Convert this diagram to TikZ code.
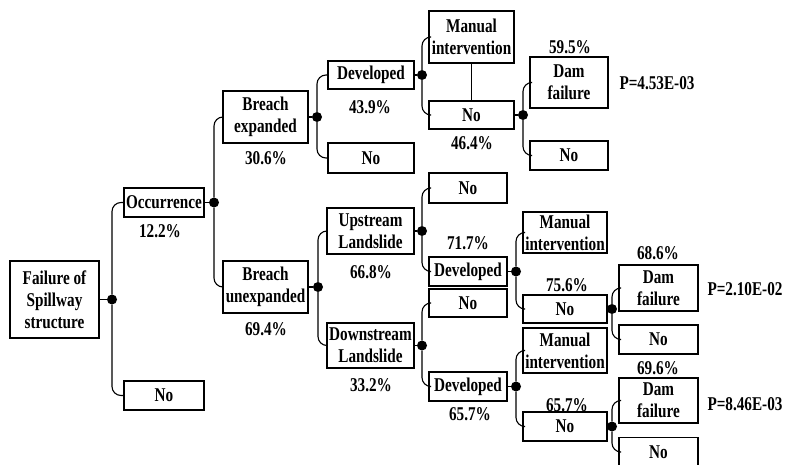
\documentclass[tikz,border=0pt]{standalone}
\usepackage{fontspec}
\setmainfont{Liberation Serif}[FakeStretch=0.78]
\usepackage{tikz}

\begin{document}
\begin{tikzpicture}[x=1pt,y=-1pt,
    every node/.style={font=\fontsize{19.5}{22}\selectfont\bfseries},
    box/.style={draw, line width=1.5pt, inner sep=0pt, align=center},
    dot/.style={circle, fill, inner sep=0pt, minimum size=10pt},
    branch/.style={line width=1.1pt, rounded corners=9pt}]
    \useasboundingbox (0,0) rectangle (788,465);
    \clip (0,0) rectangle (788,465);

    % Nodes
    \node[box, minimum width=89pt, minimum height=77pt] (fail) at (54.5,299.5) {Failure of\\Spillway\\structure};
    \node[box, minimum width=80pt, minimum height=29pt] (occ) at (164,202.5) {Occurrence};
    \node[box, minimum width=80pt, minimum height=29pt] (noocc) at (164,395.5) {No};
    \node[box, minimum width=85pt, minimum height=52pt] (bexp) at (265.5,117) {Breach\\expanded};
    \node[box, minimum width=85pt, minimum height=52pt] (bunexp) at (265.5,287) {Breach\\unexpanded};
    \node[box, minimum width=86pt, minimum height=28pt] (dev1) at (371,75) {Developed};
    \node[box, minimum width=86pt, minimum height=30pt] (nodev1) at (371,158) {No};
    \node[box, minimum width=85pt, minimum height=52pt] (man1) at (471.5,37) {Manual\\intervention};
    \node[box, minimum width=85pt, minimum height=28pt] (noman1) at (471.5,115) {No};
    \node[box, minimum width=78pt, minimum height=51pt] (dam1) at (569,82.5) {Dam\\failure};
    \node[box, minimum width=78pt, minimum height=29pt] (nodam1) at (569,155.5) {No};
    \node[box, minimum width=87pt, minimum height=46pt] (up) at (370.5,231) {Upstream\\Landslide};
    \node[box, minimum width=87pt, minimum height=45pt] (down) at (370.5,345.5) {Downstream\\Landslide};
    \node[box, minimum width=78pt, minimum height=30pt] (nodev2) at (468,188) {No};
    \node[box, minimum width=78pt, minimum height=29pt] (dev2) at (468,271.5) {Developed};
    \node[box, minimum width=78pt, minimum height=28pt] (nodev3) at (468,303) {No};
    \node[box, minimum width=78pt, minimum height=29pt] (dev3) at (468,386.5) {Developed};
    \node[box, minimum width=84pt, minimum height=41pt] (man2) at (565,232.5) {Manual\\intervention};
    \node[box, minimum width=84pt, minimum height=28pt] (noman2) at (565,309) {No};
    \node[box, minimum width=84pt, minimum height=45pt] (man3) at (565,350.5) {Manual\\intervention};
    \node[box, minimum width=84pt, minimum height=29pt] (noman3) at (565,426.5) {No};
    \node[box, minimum width=79pt, minimum height=46pt] (dam2) at (658.5,288) {Dam\\failure};
    \node[box, minimum width=79pt, minimum height=29pt] (nodam2) at (658.5,339.5) {No};
    \node[box, minimum width=79pt, minimum height=45pt] (dam3) at (658.5,400.5) {Dam\\failure};
    \node[box, minimum width=79pt, minimum height=29pt] (nodam3) at (658.5,452) {No};

    % Probabilities
    \node (p122) at (160,231) {12.2\%};
    \node (p694) at (266,329) {69.4\%};
    \node (p306) at (266,158) {30.6\%};
    \node (p439) at (370,107) {43.9\%};
    \node (p464) at (472,143) {46.4\%};
    \node (p595) at (570,47) {59.5\%};
    \node (p668) at (371,272) {66.8\%};
    \node (p717) at (468,243) {71.7\%};
    \node (p332) at (371,385) {33.2\%};
    \node (p657a) at (470,414) {65.7\%};
    \node (p756) at (567,285) {75.6\%};
    \node (p686) at (658,253) {68.6\%};
    \node (p657b) at (567,405) {65.7\%};
    \node (p696) at (658,368) {69.6\%};
    \node (pdam1) at (657,83) {P=4.53E-03};
    \node (pdam2) at (745,289) {P=2.10E-02};
    \node (pdam3) at (745,404) {P=8.46E-03};

    % Chance points
    \node[dot] (d0) at (112,299.5) {};
    \node[dot] (d1) at (214,202.5) {};
    \node[dot] (d2) at (317,117) {};
    \node[dot] (d3) at (318,287) {};
    \node[dot] (d4) at (422,75) {};
    \node[dot] (d5) at (523,115) {};
    \node[dot] (d6) at (422,231) {};
    \node[dot] (d7) at (422,345.5) {};
    \node[dot] (d8) at (516,271.5) {};
    \node[dot] (d9) at (516,386.5) {};
    \node[dot] (d10) at (612,309) {};
    \node[dot] (d11) at (612,426.5) {};

    % Edges
    \draw[branch] (fail) -- (d0);
    \draw[branch] (d0) |- (occ.west);
    \draw[branch] (d0) |- (noocc.west);

    \draw[branch] (occ) -- (d1);
    \draw[branch] (d1) |- (bexp.west);
    \draw[branch] (d1) |- (bunexp.west);

    \draw[branch] (bexp) -- (d2);
    \draw[branch] (d2) |- (dev1.west);
    \draw[branch] (d2) |- (nodev1.west);

    \draw[branch] (dev1) -- (d4);
    \draw[branch] (d4) |- (man1.west);
    \draw[branch] (d4) |- (noman1.west);
    \draw[branch] (man1) -- (noman1);

    \draw[branch] (noman1) -- (d5);
    \draw[branch] (d5) |- (dam1.west);
    \draw[branch] (d5) |- (nodam1.west);

    \draw[branch] (bunexp) -- (d3);
    \draw[branch] (d3) |- (up.west);
    \draw[branch] (d3) |- (down.west);

    \draw[branch] (up) -- (d6);
    \draw[branch] (d6) |- (nodev2.west);
    \draw[branch] (d6) |- (dev2.west);

    \draw[branch] (down) -- (d7);
    \draw[branch] (d7) |- (nodev3.west);
    \draw[branch] (d7) |- (dev3.west);

    \draw[branch] (dev2) -- (d8);
    \draw[branch] (d8) |- (man2.west);
    \draw[branch] (d8) |- (noman2.west);

    \draw[branch] (dev3) -- (d9);
    \draw[branch] (d9) |- (man3.west);
    \draw[branch] (d9) |- (noman3.west);

    \draw[branch] (noman2) -- (d10);
    \draw[branch] (d10) |- (dam2.west);
    \draw[branch] (d10) |- (nodam2.west);

    \draw[branch] (noman3) -- (d11);
    \draw[branch] (d11) |- (dam3.west);
    \draw[branch] (d11) |- (nodam3.west);
\end{tikzpicture}
\end{document}
